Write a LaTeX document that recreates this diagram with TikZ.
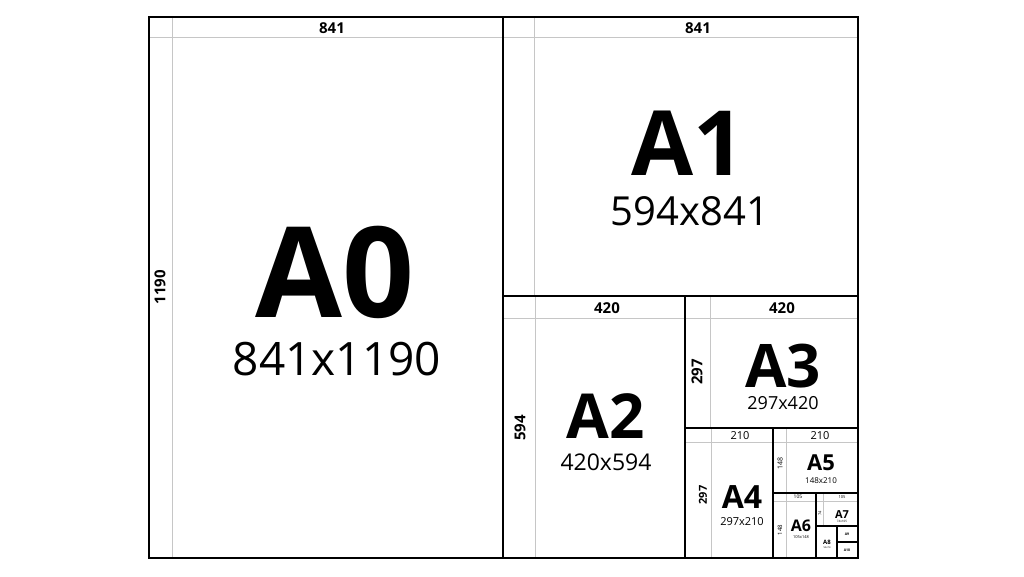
\documentclass[tikz,border=0pt]{standalone}
\usepackage{fontspec}
\setmainfont{Open Sans}

\tikzset{
 sheet/.style={line width=2.4pt},
 dimline/.style={color=gray!45, line width=0.8pt},
 dimlab/.style={font=\bfseries\fontsize{#1}{#1}\selectfont, inner sep=0pt},
 thinlab/.style={font=\fontsize{#1}{#1}\selectfont, inner sep=0pt},
 sizename/.style={font=\bfseries\fontsize{#1}{#1}\selectfont, anchor=base, inner sep=0pt,
   text height={0.72*#1pt}, text depth=0pt},
 sizemm/.style={font=\fontsize{#1}{#1}\selectfont, anchor=base, inner sep=0pt,
   text height={0.72*#1pt}, text depth=0pt},
}

\begin{document}
\begin{tikzpicture}[x=1pt,y=-1pt]
\useasboundingbox (0,0) rectangle (1024,576);
\fill[white] (0,0) rectangle (1024,576);

% dimension lines
\draw[dimline] (149,37) -- (858,37);
\draw[dimline] (172,17) -- (172,558);
\draw[dimline] (534,17) -- (534,296);
\draw[dimline] (503,318) -- (858,318);
\draw[dimline] (535,296) -- (535,558);
\draw[dimline] (710,296) -- (710,428);
\draw[dimline] (685,442) -- (858,442);
\draw[dimline] (711,428) -- (711,558);
\draw[dimline] (786,428) -- (786,558);
\draw[dimline] (773,501) -- (858,501);
\draw[dimline] (823,493) -- (823,526);

% sheets
\draw[sheet] (149,17) rectangle (858,558);
\draw[sheet] (503,17) -- (503,558);
\draw[sheet] (503,296) -- (858,296);
\draw[sheet] (685,296) -- (685,558);
\draw[sheet] (685,428) -- (858,428);
\draw[sheet] (773,428) -- (773,558);
\draw[sheet] (773,493) -- (858,493);
\draw[sheet] (816,493) -- (816,558);
\draw[sheet] (816,526) -- (858,526);
\draw[sheet] (837,526) -- (837,558);
\draw[sheet] (837,542) -- (858,542);

% A0
\node[dimlab=15] (a0w) at (332,28) {841};
\node[dimlab=15, rotate=90] (a0h) at (160,287) {1190};
\node[sizename=126] (a0) at (335,317) {A0};
\node[sizemm=46] (a0mm) at (337,375) {841x1190};

% A1
\node[dimlab=15] (a1w) at (698,28) {841};
\node[sizename=90] (a1) at (688,175) {A1};
\node[sizemm=40] (a1mm) at (690,225) {594x841};

% A2
\node[dimlab=15] (a2w) at (607,308) {420};
\node[dimlab=15, rotate=90] (a2h) at (520,428) {594};
\node[sizename=62] (a2) at (606,438) {A2};
\node[sizemm=23] (a2mm) at (606,470) {420x594};

% A3
\node[dimlab=15] (a3w) at (782,308) {420};
\node[dimlab=15, rotate=90] (a3h) at (697,372) {297};
\node[sizename=60] (a3) at (783,387) {A3};
\node[sizemm=18] (a3mm) at (783,409) {297x420};

% A4
\node[thinlab=11] (a4w) at (740,436) {210};
\node[dimlab=11, rotate=90] (a4h) at (703,495) {297};
\node[sizename=32] (a4) at (742,508) {A4};
\node[sizemm=11] (a4mm) at (742,525) {297x210};

% A5
\node[thinlab=11] (a5w) at (820,436) {210};
\node[thinlab=7, rotate=90] (a5h) at (780,463) {148};
\node[sizename=22] (a5) at (821,470) {A5};
\node[sizemm=8] (a5mm) at (821,483) {148x210};

% A6
\node[thinlab=5] (a6w) at (798,497) {105};
\node[thinlab=6, rotate=90] (a6h) at (780,530) {148};
\node[sizename=16] (a6) at (801,531) {A6};
\node[sizemm=4] (a6mm) at (801,538) {105x148};

% A7
\node[thinlab=4] (a7w) at (842,497) {105};
\node[thinlab=4, rotate=90] (a7h) at (820,513) {74};
\node[sizename=11] (a7) at (842,518) {A7};
\node[sizemm=3] (a7mm) at (842,522) {74x105};

% A8, A9, A10
\node[sizename=6] (a8) at (827,544) {A8};
\node[sizemm=2.5] (a8mm) at (827,548) {52x74};
\node[sizename=3.5] (a9) at (847,535) {A9};
\node[sizename=3.5] (a10) at (847,551) {A10};
\end{tikzpicture}
\end{document}
